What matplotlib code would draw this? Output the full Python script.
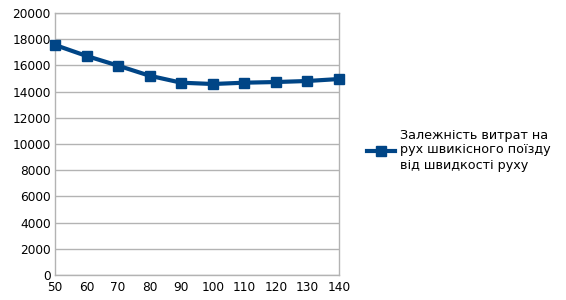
import matplotlib
matplotlib.use("Agg")
import matplotlib.pyplot as plt

speeds = [50, 60, 70, 80, 90, 100, 110, 120, 130, 140]
costs = [17560, 16720, 15980, 15210, 14680, 14580, 14680, 14730, 14810, 14960]
series_label = "Залежність витрат на\nрух швикісного поїзду\nвід швидкості руху"
y_ticks = list(range(0, 20001, 2000))

plt.rcParams['font.family'] = ['DejaVu Sans']
fig = plt.figure(figsize=(5.66, 3.0), dpi=100)
ax = fig.add_axes([55/566, 25/300, (339-55)/566, (275-13)/300])

color = '#004586'
line, = ax.plot(speeds, costs, color=color, linewidth=3, marker='s',
                markersize=7.5, markerfacecolor=color, markeredgecolor=color,
                label=series_label, zorder=3, clip_on=False)

ax.set_xlim(50, 140)
ax.set_ylim(0, 20000)
ax.set_xticks(speeds)
ax.set_yticks(y_ticks)
ax.tick_params(axis='x', length=0, labelsize=8.7, pad=4)
ax.tick_params(axis='y', length=0, labelsize=8.7, pad=3)
ax.grid(axis='y', color='#b3b3b3', linewidth=1)
ax.set_axisbelow(True)
for s in ax.spines.values():
    s.set_color('#b3b3b3')
    s.set_linewidth(1)

fig.legend(handles=[line], labels=[series_label], loc='center left',
           bbox_to_anchor=(362/566, 150/300), frameon=False,
           fontsize=9.2, handlelength=2.2, handletextpad=0.4,
           borderaxespad=0, labelspacing=0)

fig.savefig('out.png', dpi=100)
